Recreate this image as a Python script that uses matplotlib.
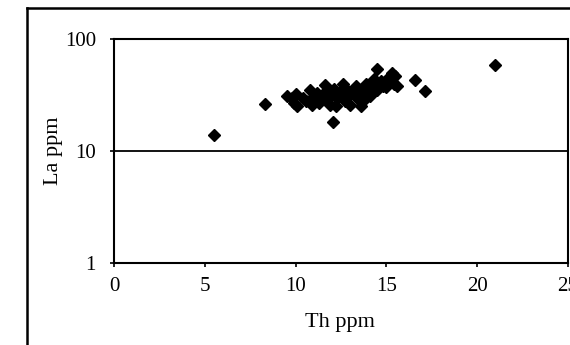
import matplotlib
matplotlib.use("Agg")
import matplotlib.pyplot as plt
from matplotlib.lines import Line2D
from matplotlib.ticker import FixedLocator, NullLocator, FixedFormatter

# Data (Th ppm, La ppm)
th_ppm = [5.5, 8.3, 12.05, 16.6, 17.1, 21.0,
          9.5, 9.8, 10.0, 9.9, 10.1, 10.4, 10.6, 10.8, 10.9, 11.0,
          11.1, 11.2, 11.3, 11.5, 11.6, 11.7, 11.8, 11.9, 12.0, 12.1,
          12.2, 12.3, 12.5, 12.6, 12.7, 12.8, 12.9, 13.0, 13.1, 13.3,
          13.4, 13.5, 13.6, 13.7, 13.8, 13.9, 14.0, 14.1, 14.2, 14.3,
          14.5, 14.5, 14.7, 14.8, 15.0, 15.1, 15.3, 15.4, 15.6, 15.5]
la_ppm = [14, 26.5, 18.3, 43, 34, 58,
          31, 30, 32, 27, 25, 30, 28, 35, 26, 31,
          29, 33, 27, 31, 39, 34, 29, 26, 32, 36,
          25, 30, 34, 40, 28, 36, 31, 26, 33, 38,
          30, 35, 25, 28, 33, 40, 36, 31, 38, 44,
          54, 35, 42, 38, 37, 45, 50, 40, 38, 47]

x_ticks = [0, 5, 10, 15, 20, 25]
x_tick_labels = ["0", "5", "10", "15", "20", "25"]
y_ticks = [1, 10, 100]
y_tick_labels = ["1", "10", "100"]

plt.rcParams['font.family'] = ['Liberation Serif', 'DejaVu Serif']

W, H = 570, 345
fig = plt.figure(figsize=(W / 100, H / 100), dpi=100)
fig.patch.set_facecolor('white')

# Outer chart frame (partially visible)
fig.add_artist(Line2D([27 / W, 27 / W], [0, 1 - 8 / H], transform=fig.transFigure,
                      color='black', lw=1.8))
fig.add_artist(Line2D([27 / W, 1.0], [1 - 8 / H, 1 - 8 / H], transform=fig.transFigure,
                      color='black', lw=1.8))

left, right, top, bottom = 114 / W, 568 / W, 1 - 39 / H, 1 - 263 / H
ax = fig.add_axes([left, bottom, right - left, top - bottom])
ax.set_xlim(0, 25)
ax.set_yscale('log')
ax.set_ylim(1, 100)

ax.axhline(10, color='black', lw=1.3, zorder=1)

ax.plot(th_ppm, la_ppm, linestyle='none', marker='D', markersize=6,
        color='black', zorder=3)

ax.xaxis.set_major_locator(FixedLocator(x_ticks))
ax.xaxis.set_major_formatter(FixedFormatter(x_tick_labels))
ax.yaxis.set_major_locator(FixedLocator(y_ticks))
ax.yaxis.set_major_formatter(FixedFormatter(y_tick_labels))
ax.yaxis.set_minor_locator(NullLocator())
ax.xaxis.set_minor_locator(NullLocator())

ax.tick_params(axis='both', direction='out', length=3, width=1.2, labelsize=15,
               colors='black')
ax.tick_params(axis='x', pad=7)
ax.tick_params(axis='y', pad=10)

for s in ax.spines.values():
    s.set_color('black')
    s.set_linewidth(1.5)

ax.set_xlabel("Th ppm", fontsize=16, va='center')
ax.set_ylabel("La ppm", fontsize=16, va='center')
ax.xaxis.set_label_coords((340 - 114) / 454, (263 - 323) / 224)
ax.yaxis.set_label_coords((53 - 114) / 454, 0.5)

fig.savefig("out.png", dpi=100, facecolor='white')
